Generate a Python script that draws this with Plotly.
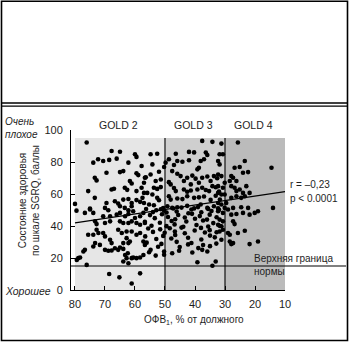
import plotly.graph_objects as go

# ---- data ----
fev1 = [
 76.1,67.8,65.0,60.0,59.5,72.3,73.9,70.6,68.6,66.1,62.2,57.8,69.5,65.0,63.9,59.5,58.9,73.4,72.8,61.7,61.1,56.7,67.8,67.0,63.4,62.6,59.5,57.8,57.0,75.6,73.4,80.0,69.5,66.7,65.6,65.0,63.9,62.2,61.1,59.5,58.3,57.5,63.4,62.2,61.1,75.0,70.0,68.9,79.5,
 37.6,34.2,52.6,54.8,46.4,42.0,40.3,36.4,35.9,48.7,45.9,44.2,42.0,38.1,37.0,54.2,49.8,47.0,39.2,38.7,50.3,52.0,54.8,47.6,45.9,44.8,42.6,40.9,39.8,37.6,35.9,33.7,32.6,56.4,53.1,51.4,57.0,48.7,48.1,43.7,41.4,38.7,34.8,34.2,53.7,52.6,51.4,47.0,46.4,43.7,42.6,41.4,39.2,37.6,36.4,35.3,33.1,32.0,55.9,54.2,52.6,52.0,48.7,48.1,45.9,44.2,42.6,40.3,38.7,37.0,34.8,33.1,31.7,57.0,55.3,53.7,49.2,47.6,45.9,42.6,40.3,38.1,35.9,33.7,32.0,51.4,50.3,
 25.7,31.2,31.8,30.7,23.4,14.5,26.8,25.1,22.3,24.0,32.3,31.8,27.9,27.3,32.3,31.2,30.1,28.4,26.2,32.3,30.7,27.9,26.8,26.2,25.1,24.0,21.8,22.9,32.3,31.2,30.1,27.9,26.2,24.6,23.4,32.3,31.2,29.6,30.1,27.3,24.6,22.3,14.0,
 76.7,75.0,73.9,70.6,68.3,66.1,65.0,63.3,62.2,60.6,60.0,58.3,57.2,73.3,72.8,70.0,68.3,65.0,63.9,62.2,61.1,59.5,58.3,56.7,72.8,72.2,73.9,75.6,70.6,70.0,65.6,64.4,62.8,61.1,59.5,58.3,62.8,61.7,62.2,73.3,71.7,73.9,68.3,67.8,63.9,57.2,56.7,70.0,68.9,67.8,66.7,65.6,65.0,63.9,62.4,76.7,77.2,63.3,62.8,61.1,60.6,59.5,58.3,57.2,78.9,79.4,78.3,76.1,63.9,62.2,68.6,65.2,61.1,58.3,
 56.3,54.0,52.9,50.6,49.5,47.2,46.1,44.5,42.2,41.2,39.0,37.9,35.6,34.5,32.3,
 55.0,53.4,51.0,49.0,46.6,45.6,43.4,41.0,40.0,38.4,36.0,35.1,32.8,
 56.7,54.5,51.7,49.5,47.8,46.8,43.9,42.9,39.5,37.3,35.6,33.9,31.8,
 55.6,54.0,51.6,50.1,48.4,46.7,44.5,43.4,40.1,38.0,36.7,35.1,32.8,
 56.6,52.9,50.6,47.9,46.6,42.3,37.9,35.0,33.4,
 56.1,52.3,51.2,46.1,45.1,42.3,41.2,38.9,37.3,35.0,32.9,
 54.8,55.3,53.1,50.3,50.3,47.6,45.3,40.9,37.6,35.9,
 39.2,34.2,33.1,
 32.3,30.7,29.0,27.9,26.2,24.0,21.8,20.1,19.0,31.8,30.7,32.3,31.2,27.3,26.8,31.8,30.7,29.0,28.4,25.7,23.4,31.2,28.4,27.3,27.9,21.8,19.0,
]
sgrq = [
 92.2,86.9,86.4,84.8,83.2,81.7,79.6,80.6,81.3,82.1,79.6,77.5,73.3,73.7,74.3,72.9,71.8,70.2,68.5,68.1,66.6,70.2,62.8,63.3,63.9,62.6,61.8,63.9,60.7,61.8,57.6,53.8,54.4,55.5,54.0,52.3,56.5,56.9,54.4,56.2,55.1,57.6,51.3,49.8,52.3,50.9,51.3,49.8,49.6,
 93.2,92.6,85.2,84.8,85.2,86.3,86.0,85.9,84.4,81.7,80.6,80.2,81.1,80.6,81.7,78.5,79.6,78.1,75.4,76.4,76.9,73.9,72.2,74.3,72.7,71.2,70.2,71.5,69.6,70.2,70.9,71.2,69.8,70.4,68.1,69.1,67.0,67.4,66.0,68.1,66.0,67.0,68.1,64.9,63.9,63.2,64.3,63.7,61.8,62.8,61.4,62.2,62.8,63.9,62.5,61.8,64.2,61.5,60.7,59.7,57.6,56.1,58.6,56.5,57.2,56.8,58.6,57.6,57.9,58.4,56.3,58.9,56.5,54.4,53.4,53.0,52.3,51.3,51.7,52.6,51.0,53.4,51.3,52.3,50.2,50.5,49.6,
 92.2,91.5,84.8,84.8,80.6,76.4,76.4,76.9,73.7,73.3,80.6,78.5,71.2,70.2,72.2,71.2,67.0,68.1,68.1,64.9,63.9,64.9,63.9,61.8,62.8,60.7,60.7,64.9,60.7,59.7,59.7,57.6,58.6,57.6,58.6,54.4,53.4,54.4,51.3,51.3,51.7,51.3,51.3,
 48.2,50.3,48.2,46.1,46.1,47.1,48.2,46.1,47.5,49.2,45.0,46.1,48.2,42.9,41.2,41.9,42.9,42.9,41.9,41.9,42.9,41.9,40.8,41.9,37.7,35.6,34.5,34.5,35.6,33.5,37.7,35.6,36.6,36.6,34.5,35.6,32.4,30.3,29.3,29.3,28.2,27.2,31.4,29.3,29.3,30.3,28.2,25.1,24.5,24.7,26.1,25.1,26.6,25.7,23.0,25.1,24.1,21.9,19.9,19.9,20.3,19.9,20.3,21.9,19.9,18.8,20.3,15.7,17.8,16.7,10.0,7.9,4.1,10.4,
 50.6,48.7,49.8,51.2,48.4,50.9,49.1,51.5,48.0,50.3,51.8,48.6,50.7,49.4,51.0,
 46.8,44.9,47.3,45.6,44.2,46.9,45.3,47.6,44.5,46.2,44.0,47.1,45.5,
 42.6,40.2,42.0,39.9,43.1,41.0,39.5,42.8,40.6,43.4,39.7,41.8,40.1,
 38.4,36.3,37.9,35.8,38.6,36.5,39.0,35.5,37.2,38.8,35.9,37.4,36.1,
 33.5,31.9,33.8,32.2,34.4,32.7,31.6,34.0,32.9,
 29.6,27.0,28.8,30.1,26.9,28.5,29.4,26.2,28.1,27.4,29.0,
 25.1,23.6,21.5,24.1,22.0,23.0,24.5,23.4,25.1,24.1,
 17.3,15.2,17.8,
 49.2,48.2,50.3,47.1,47.5,48.2,47.1,48.2,49.2,44.0,42.9,40.8,39.8,42.9,41.2,36.6,37.7,35.6,34.5,35.6,37.0,31.4,30.3,29.3,28.7,28.7,30.3,
]

reg_x = [80, 10]
reg_y = [42, 61.5]

gold_bounds = [80, 50, 30, 10]
gold_labels = ["GOLD 2", "GOLD 3", "GOLD 4"]
gold_fill = ["#e6e6e6", "#cfcfcf", "#bbbbbb"]
shade_top = 95
norm_level = 15

x_ticks = [80, 70, 60, 50, 40, 30, 20, 10]
y_ticks = [0, 20, 40, 60, 80, 100]

# ---- layout geometry ----
W, H = 349, 342
ML, MR, MT, MB = 71, 64, 130, 52
PW, PH = W - ML - MR, H - MT - MB


def px(xp):
    return (xp - ML) / PW


def py(yp):
    return (H - MB - yp) / PH


FONT = "Liberation Sans, Arial, sans-serif"
TXT = "#1e1e1e"

fig = go.Figure()

shapes = []
for i in range(3):
    shapes.append(dict(type="rect", xref="x", yref="y", x0=gold_bounds[i], x1=gold_bounds[i + 1],
                       y0=0, y1=shade_top, fillcolor=gold_fill[i], line=dict(width=0), layer="below"))
for b in gold_bounds[1:3]:
    shapes.append(dict(type="line", xref="x", yref="y", x0=b, x1=b, y0=0, y1=shade_top,
                       line=dict(color="black", width=1.1), layer="below"))
shapes.append(dict(type="line", xref="paper", yref="y", x0=0, x1=px(346), y0=norm_level, y1=norm_level,
                   line=dict(color="black", width=1.1)))
# frame
shapes.append(dict(type="rect", xref="paper", yref="paper", x0=px(1.5), x1=px(347.5), y0=py(340.5), y1=py(1.2),
                   line=dict(color="black", width=1.6)))
shapes.append(dict(type="line", xref="paper", yref="paper", x0=px(1.5), x1=px(347.5), y0=py(103), y1=py(103),
                   line=dict(color="black", width=1.6)))
shapes.append(dict(type="line", xref="paper", yref="paper", x0=px(1.5), x1=px(347.5), y0=py(106.2), y1=py(106.2),
                   line=dict(color="black", width=1.2)))

fig.add_trace(go.Scatter(x=fev1, y=sgrq, mode="markers",
                         marker=dict(color="black", size=4.6, line=dict(width=0)),
                         hoverinfo="skip", showlegend=False))
fig.add_trace(go.Scatter(x=reg_x, y=reg_y, mode="lines",
                         line=dict(color="black", width=1.2),
                         hoverinfo="skip", showlegend=False))

ann = []
gold_centers = [65.6, 40.6, 20.6]
for lab, xc in zip(gold_labels, gold_centers):
    ann.append(dict(text=lab, x=xc, xref="x", y=py(125), yref="paper", showarrow=False,
                    xanchor="center", yanchor="middle", font=dict(size=10.5, color=TXT, family=FONT)))
ann.append(dict(text="r = –0,23", x=px(288), y=py(184), xref="paper", yref="paper", showarrow=False,
                xanchor="left", yanchor="middle", font=dict(size=10, color=TXT, family=FONT)))
ann.append(dict(text="p < 0.0001", x=px(288), y=py(198.5), xref="paper", yref="paper", showarrow=False,
                xanchor="left", yanchor="middle", font=dict(size=10, color=TXT, family=FONT)))
ann.append(dict(text="Верхняя граница<br>нормы", x=px(252), y=py(264.5), xref="paper", yref="paper",
                showarrow=False, xanchor="left", yanchor="middle", align="left",
                font=dict(size=10, color=TXT, family=FONT)))
ann.append(dict(text="<i>Очень<br>плохое</i>", x=px(3), y=py(127.5), xref="paper", yref="paper",
                showarrow=False, xanchor="left", yanchor="middle", align="left",
                font=dict(size=10, color=TXT, family=FONT)))
ann.append(dict(text="<i>Хорошее</i>", x=px(3), y=py(290.5), xref="paper", yref="paper",
                showarrow=False, xanchor="left", yanchor="middle", align="left",
                font=dict(size=10.5, color=TXT, family=FONT)))
ann.append(dict(text="Состояние здоровья<br>по шкале SGRQ, баллы", x=px(29), y=py(201), xref="paper",
                yref="paper", showarrow=False, textangle=-90, xanchor="center", yanchor="middle",
                font=dict(size=10, color=TXT, family=FONT)))
ann.append(dict(text="ОФВ<sub>1</sub>, % от должного", x=px(194), y=py(319.5), xref="paper", yref="paper",
                showarrow=False, xanchor="center", yanchor="middle",
                font=dict(size=10, color=TXT, family=FONT)))

fig.update_layout(
    width=W, height=H, autosize=False, margin=dict(l=ML, r=MR, t=MT, b=MB, pad=0),
    paper_bgcolor="white", plot_bgcolor="white",
    shapes=shapes, annotations=ann, showlegend=False,
    font=dict(family=FONT, size=11, color=TXT),
    xaxis=dict(range=[81.33, 10], tickvals=x_ticks, ticks="inside", ticklen=4, tickcolor="black",
               showline=True, linecolor="black", linewidth=1, showgrid=False, zeroline=False,
               automargin=False, tickfont=dict(size=11, color=TXT), ticklabelstandoff=4),
    yaxis=dict(range=[0, 100], tickvals=y_ticks, ticks="inside", ticklen=4, tickcolor="black",
               showline=True, linecolor="black", linewidth=1, showgrid=False, zeroline=False,
               automargin=False, tickfont=dict(size=11, color=TXT), ticklabelstandoff=5),
)

fig.write_html("out.html")
